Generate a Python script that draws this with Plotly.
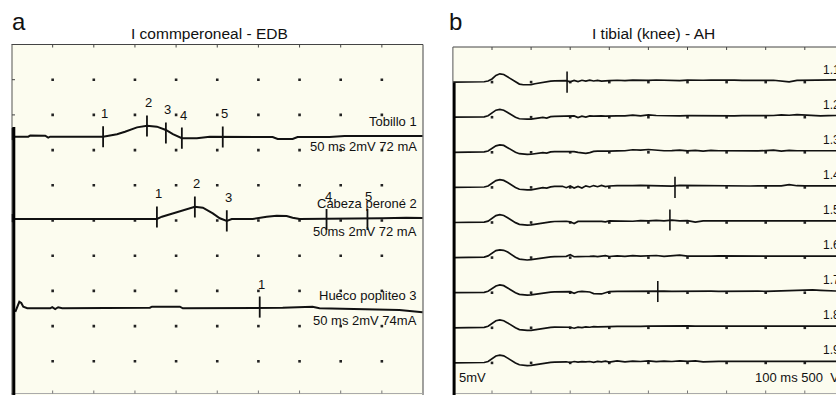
import plotly.graph_objects as go

W, H = 836, 395

# ---------------- Panel a : "I commperoneal - EDB"  (time in ms, amplitude in mV, 2 mV/div, 5 ms/div)
A1_T = [0.1, 0.1, 0.22, 2.04, 2.28, 4.1, 4.46, 4.7, 11.13, 12.82, 13.79, 15.25, 16.46, 17.67, 18.76,
        19.61, 20.7, 22.52, 24.1, 28.95, 31.73, 32.34, 34.16, 34.76, 38.64, 40.46, 49.95]
A1_V = [0.49, -0.19, 0.0, 0.0, 0.07, 0.06, -0.05, 0.0, 0.0, 0.14, 0.28, 0.53, 0.62, 0.57, 0.38,
        0.14, -0.09, -0.09, 0.0, -0.02, -0.02, -0.13, -0.13, -0.02, -0.02, 0.04, 0.04]
A1_CUR_T = [11.13, 16.46, 18.76, 20.7, 25.67]
A1_CUR_V = [0.0, 0.61, 0.21, -0.08, -0.02]
A1_CUR_LBL = ["1", "2", "3", "4", "5"]

A2_T = [0.1, 0.1, 0.34, 17.67, 18.28, 19.25, 20.82, 22.28, 23.25, 24.46, 25.31, 26.16, 26.76, 29.31,
        31.01, 32.22, 33.43, 34.16, 35.01, 39.0, 43.13, 45.07, 47.98, 49.95]
A2_V = [0.28, -0.17, 0.0, 0.0, 0.13, 0.27, 0.51, 0.70, 0.64, 0.32, 0.04, -0.11, 0.0, 0.0,
        0.13, 0.19, 0.17, 0.07, 0.0, 0.0, 0.0, 0.04, 0.07, 0.06]
A2_CUR_T = [17.67, 22.28, 26.16, 38.28, 43.25]
A2_CUR_V = [0.11, 0.68, -0.11, -0.03, -0.03]
A2_CUR_LBL = ["1", "2", "3", "4", "5"]

A3_T = [0.46, 0.58, 0.95, 1.19, 1.43, 1.92, 4.7, 4.95, 5.31, 5.67, 6.16, 16.82, 17.07, 20.46, 20.82,
        32.95, 35.0, 36.58, 37.42, 43.13, 45.3, 47.13, 49.95]
A3_V = [-0.21, -0.04, 0.37, 0.30, 0.09, 0.0, 0.0, 0.07, -0.04, 0.06, 0.0, 0.03, 0.09, 0.09, 0.0,
        0.03, 0.05, 0.09, 0.0, -0.04, -0.07, -0.1, -0.23]
A3_CUR_T = [30.16]
A3_CUR_V = [0.07]
A3_CUR_LBL = ["1"]

A_NAMES = ["Tobillo 1", "Cabeza peroné 2", "Hueco popliteo 3"]
A_SETTINGS = ["50 ms 2mV 72 mA", "50ms 2mV 72 mA", "50 ms 2mV 74mA"]

# ---------------- Panel b : "I tibial (knee) - AH"  (time in ms, amplitude in µV, 500 µV/div, 10 ms/div)
B_T = [0, 1, 2, 4, 6, 8,
       9, 10, 11, 12, 13, 14, 15, 16, 17, 18, 19, 20, 21, 22, 23, 24, 25, 26, 27, 28,
       29, 30, 31, 32, 33, 34, 35, 36, 37, 38, 39, 40,
       42, 44, 46, 48, 50, 52, 54, 56, 58, 60, 62, 64, 66, 68, 70, 72, 74, 76, 78, 80,
       82, 84, 86, 88, 90, 92, 94, 96, 98]
B11_V = [0, 0, 0, 0, 0, 5, 15, 45, 95, 118, 108, 75, 35, 0, -28, -38, -38, -36, -24, -12, -4, 6, 14, 18, 20, 22,
         20, 4, 24, 8, 26, 14, 28, 16, 24, 14, 22, 20,
         26, 20, 28, 22, 24, 30, 24, 26, 22, 28, 24, 26, 30, 26, 24, 28, 25, 22, 26, 24,
         26, 14, 4, 24, 24, 26, 25, 24, 32]
B12_V = [0, 0, 0, 0, 0, 6, 20, 55, 100, 112, 100, 68, 30, -2, -22, -28, -28, -26, -18, -8, -2, -12, 8, 12, 14, 16,
         16, 14, 18, -6, 14, 2, 18, 16, 20, 18, 16, 20,
         18, 20, 30, 18, 34, 24, 20, 22, 20, 22, 20, 22, 24, 20, 22, 20, 22, 20, 22, 20,
         24, 34, 28, 38, 30, 22, 20, 22, 24]
B13_V = [0, 0, 0, 0, 0, 6, 18, 50, 92, 106, 98, 66, 30, 0, -20, -28, -30, -28, -20, -10, -4, -12, 6, 10, 12, 12,
         12, 14, 10, -2, -14, -16, -4, 14, 18, 16, 20, 18,
         20, 22, 36, 30, 40, 28, 22, 24, 30, 20, 28, 18, 26, 22, 20, 22, 20, 22, 20, 24,
         30, 18, 28, 22, 20, 22, 20, 22, 22]
B14_V = [0, 0, 0, 0, 0, 6, 20, 52, 96, 110, 100, 70, 32, 0, -26, -34, -36, -34, -24, -12, -4, -10, 8, 14, 16, 16,
         -4, 20, -10, 14, -8, 22, 6, 26, 10, 28, 12, 20,
         24, 22, 26, 30, 28, 26, 24, 18, 30, 28, 30, 26, 24, 22, 22, 24, 22, 20, 22, 20,
         22, 22, 38, 24, 22, 22, 20, 22, 22]
B15_V = [0, 0, 0, 0, 0, 6, 20, 55, 98, 112, 100, 68, 30, -2, -26, -34, -36, -34, -24, -12, -4, 4, 10, 14, 16, 18,
         18, 10, -14, 16, 20, 18, 16, 20, 18, 16, 8, 22,
         20, 24, 18, 26, 22, 30, 24, 34, 24, 26, 6, 24, 24, 22, 22, 22, 22, 22, 22, 22,
         22, 22, 24, 22, 22, 22, 22, 22, 22]
B16_V = [0, 0, 0, 0, 0, 8, 24, 60, 100, 110, 104, 80, 40, 4, -22, -32, -34, -30, -20, -10, -2, 4, 10, 14, 16, 18,
         18, 40, 12, 14, 20, 16, 18, 22, 14, 18, 28, 16,
         24, 18, 28, 20, 24, 30, 18, 26, 34, 20, 24, 20, 22, 24, 22, 20, 22, 22, 22, 20,
         22, 22, 22, 22, 22, 22, 22, 22, 22]
B17_V = [0, 0, 0, 0, 0, 6, 20, 55, 96, 110, 100, 68, 30, 0, -24, -32, -34, -32, -22, -12, -4, 2, 8, 12, 14, 16,
         16, 14, -8, 14, 18, 14, 10, -12, -20, -18, 0, 14,
         18, 20, 22, 20, 24, 20, 22, 20, 22, 20, 22, 18, 22, 20, 22, 24, 20, 22, 22, 20,
         24, 18, 22, 26, 36, 40, 34, 30, 24]
B18_V = [0, 0, 0, 0, 0, 6, 22, 58, 100, 112, 100, 70, 32, 0, -26, -36, -38, -36, -26, -14, -6, 2, 6, 10, 12, 14,
         14, 8, -6, 10, 4, 14, 8, 16, 12, 16, 18, 16,
         20, 18, 22, 20, 24, 26, 30, 28, 26, 26, 24, 26, 24, 24, 24, 24, 24, 24, 24, 22,
         24, 24, 24, 24, 24, 24, 24, 24, 24]
B19_V = [0, 0, 0, 0, 0, 6, 20, 56, 98, 110, 100, 68, 30, 0, -26, -36, -38, -36, -26, -14, -6, 2, 8, 12, 14, 16,
         16, 6, 20, 10, 18, 14, 20, 8, 22, 14, 24, 12,
         28, 16, 26, 20, 30, 18, 26, 20, 28, 22, 30, 16, 24, 22, 22, 22, 24, 22, 22, 22,
         22, 22, 22, 22, 22, 22, 22, 22, 22]
B_LABELS = ["1.1", "1.2", "1.3", "1.4", "1.5", "1.6", "1.7", "1.8", "1.9"]
B_CUR_TRACE = [1, 4, 5, 7]
B_CUR_T = [29.2, 56.8, 55.5, 52.4]
B_CUR_V = [0, 0, 35, 17]

# ---------------- layout constants (pixel geometry of the two panels)
A_L, A_R, A_T, A_DIV_PX = 11.5, 423.0, 44.5, 35.2
B_L, B_T0, B_DIV_PX, B_XDIV_PX = 452.9, 47.0, 35.1, 39.1
A_OFFS = [2.619, 4.957, 7.494]      # baseline position of each trace (divisions from top)
A_MV_PER_DIV = 2.0
B_UV_PER_DIV = 500.0
CUR_HALF = 0.3                       # half height of a latency cursor (divisions)
BG = "#fcfcef"
FONT = "Liberation Sans, Arial, Helvetica, sans-serif"
INK = "#111111"


def X(px):
    return px / W


def Y(py):
    return 1 - py / H


fig = go.Figure()

# grid dots
ax_dots_x, ax_dots_y = [], []
for i in range(1, 10):
    for j in range(1, 10):
        ax_dots_x.append(5 * i)
        ax_dots_y.append(j)
fig.add_trace(go.Scatter(x=ax_dots_x, y=ax_dots_y, mode="markers", xaxis="x", yaxis="y",
                         marker=dict(symbol="square", size=2.6, color="#222"), hoverinfo="skip"))
bx_dots_x, bx_dots_y = [], []
for i in range(1, 10):
    for j in range(1, 10):
        bx_dots_x.append(10 * i)
        bx_dots_y.append(j)
fig.add_trace(go.Scatter(x=bx_dots_x, y=bx_dots_y, mode="markers", xaxis="x2", yaxis="y2",
                         marker=dict(symbol="square", size=2.6, color="#222"), hoverinfo="skip"))

annotations = []

# panel a traces
a_traces = [(A1_T, A1_V, A1_CUR_T, A1_CUR_V, A1_CUR_LBL),
            (A2_T, A2_V, A2_CUR_T, A2_CUR_V, A2_CUR_LBL),
            (A3_T, A3_V, A3_CUR_T, A3_CUR_V, A3_CUR_LBL)]
cx, cy = [], []
for k, (t, v, ct, cv, cl) in enumerate(a_traces):
    off = A_OFFS[k]
    fig.add_trace(go.Scatter(x=t, y=[off - val / A_MV_PER_DIV for val in v], mode="lines",
                             xaxis="x", yaxis="y", line=dict(color=INK, width=2), hoverinfo="skip"))
    for tt, vv, lab in zip(ct, cv, cl):
        c = off - vv / A_MV_PER_DIV
        cx += [tt, tt, None]
        cy += [c - CUR_HALF, c + CUR_HALF, None]
        annotations.append(dict(x=tt, y=c - CUR_HALF, xref="x", yref="y", text=lab, showarrow=False,
                                xanchor="center", yanchor="middle", xshift=1.5, yshift=12.5,
                                font=dict(size=13, color=INK, family=FONT)))
fig.add_trace(go.Scatter(x=cx, y=cy, mode="lines", xaxis="x", yaxis="y",
                         line=dict(color=INK, width=1.8), hoverinfo="skip"))

# panel b traces
b_vals = [B11_V, B12_V, B13_V, B14_V, B15_V, B16_V, B17_V, B18_V, B19_V]
for k, v in enumerate(b_vals):
    off = k + 1
    fig.add_trace(go.Scatter(x=B_T, y=[off - val / B_UV_PER_DIV for val in v], mode="lines",
                             xaxis="x2", yaxis="y2", line=dict(color=INK, width=1.7), hoverinfo="skip"))
bcx, bcy = [], []
for tr, tt, vv in zip(B_CUR_TRACE, B_CUR_T, B_CUR_V):
    c = tr - vv / B_UV_PER_DIV
    bcx += [tt, tt, None]
    bcy += [c - CUR_HALF, c + CUR_HALF, None]
fig.add_trace(go.Scatter(x=bcx, y=bcy, mode="lines", xaxis="x2", yaxis="y2",
                         line=dict(color=INK, width=1.6), hoverinfo="skip"))

# ---------------- frames
shapes = []


def seg(x0, y0, x1, y1, color="#444", width=1):
    shapes.append(dict(type="line", xref="paper", yref="paper", x0=X(x0), y0=Y(y0), x1=X(x1), y1=Y(y1),
                       line=dict(color=color, width=width)))


# panel a
seg(A_L, A_T, A_R, A_T)
seg(A_R, A_T, A_R, H)
seg(A_L, 393.5, A_R, 393.5, color="#aaa")
seg(12.0, A_T, 12.0, H, color="#555")
seg(13.8, 127, 13.8, H, color="#000", width=3)
for i in range(1, 10):
    px = A_L + i * (A_R - A_L) / 10
    seg(px, A_T, px, A_T + 3)
    seg(px, 393.5, px, 390.5, color="#777")
for j in range(1, 3):
    seg(12, A_T + j * A_DIV_PX, 15, A_T + j * A_DIV_PX)
# panel b
seg(B_L, B_T0, W, B_T0)
seg(B_L, 393.5, W, 393.5, color="#aaa")
seg(B_L, B_T0, B_L, H, color="#555")
seg(454.3, 83, 454.3, H, color="#000", width=2.6)
for i in range(1, 10):
    px = B_L + i * B_XDIV_PX
    seg(px, B_T0, px, B_T0 + 3)
    seg(px, 393.5, px, 390.5, color="#777")

# ---------------- texts
def txt(px, py, s, size=13, xanchor="left"):
    annotations.append(dict(x=X(px), y=Y(py), xref="paper", yref="paper", text=s, showarrow=False,
                            xanchor=xanchor, yanchor="middle", font=dict(size=size, color=INK, family=FONT)))


txt(18.5, 22, "a", size=24, xanchor="center")
txt(456, 22, "b", size=24, xanchor="center")
txt(209.5, 33, "I commperoneal - EDB", size=15.5, xanchor="center")
txt(653.5, 33, "I tibial (knee) - AH", size=15.5, xanchor="center")

a_name_y = [122, 203.3, 295]
a_set_y = [146.7, 231.7, 320]
for k in range(3):
    txt(418.5, a_name_y[k], A_NAMES[k], xanchor="right")
    txt(418.5, a_set_y[k], A_SETTINGS[k], xanchor="right")

for k, lab in enumerate(B_LABELS):
    annotations.append(dict(x=X(821), y=k + 1, xref="paper", yref="y2", text=lab, showarrow=False,
                            xanchor="left", yanchor="middle", yshift=12.5,
                            font=dict(size=12, color=INK, family=FONT)))
txt(456.5, 377, "5mV")
txt(753, 377, "100 ms 500\u00a0\u00a0V")

fig.update_layout(
    width=W, height=H, margin=dict(l=0, r=0, t=0, b=0),
    paper_bgcolor="white", plot_bgcolor=BG, showlegend=False,
    xaxis=dict(domain=[X(A_L), X(A_R)], range=[0, 50], visible=False),
    yaxis=dict(domain=[0, Y(A_T)], range=[(H - A_T) / A_DIV_PX, 0], visible=False),
    xaxis2=dict(domain=[X(B_L), 1], range=[0, (W - B_L) / B_XDIV_PX * 10], visible=False, anchor="y2"),
    yaxis2=dict(domain=[0, Y(B_T0)], range=[(H - B_T0) / B_DIV_PX, 0], visible=False, anchor="x2"),
    shapes=shapes, annotations=annotations,
)

fig.write_html("out.html", config={"displayModeBar": False},
               post_script="document.body.style.margin='0';document.body.style.overflow='hidden';")
